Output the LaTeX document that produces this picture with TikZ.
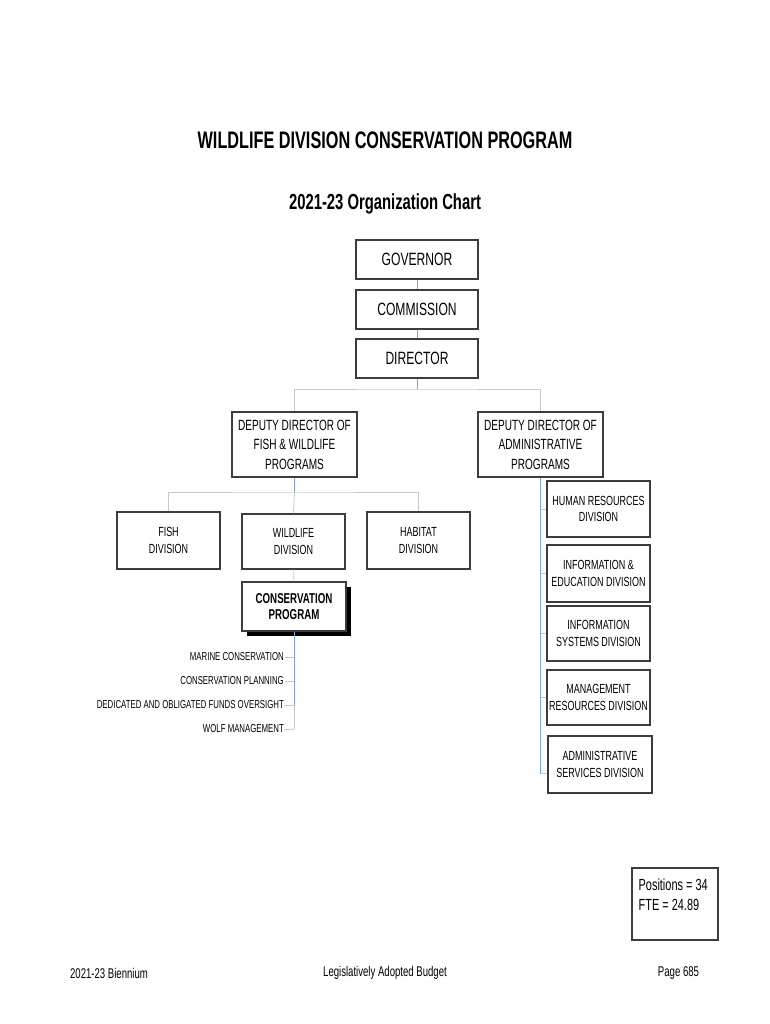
\documentclass[tikz,border=0pt]{standalone}
\usepackage{fontspec}
\setmainfont{Liberation Sans}[FakeStretch=0.68]
\usepackage{tikz}
\usetikzlibrary{positioning, shadows}
\usepackage{xcolor}

\definecolor{linkblue}{RGB}{128,164,222}
\definecolor{linkgray}{RGB}{200,200,200}
\definecolor{boxline}{RGB}{60,60,60}

\begin{document}
\begin{tikzpicture}[
        x=1pt, y=-1pt,
        box/.style={rectangle, draw=boxline, line width=1.1pt, fill=white, align=center, inner sep=0pt,
            drop shadow={shadow xshift=1.2pt, shadow yshift=-1.2pt, fill=gray!60, opacity=1}},
        topbox/.style={box, minimum width=122pt, minimum height=39pt, font=\fontsize{17.8}{20}\selectfont},
        depbox/.style={box, minimum width=125pt, minimum height=65pt, font=\fontsize{14.8}{19.5}\selectfont},
        divbox/.style={box, minimum width=103pt, minimum height=57pt, font=\fontsize{13.2}{16.5}\selectfont},
        progbox/.style={box, minimum width=104pt, minimum height=49pt, font=\bfseries\fontsize{14.3}{16}\selectfont,
            drop shadow={shadow xshift=4.5pt, shadow yshift=-4.5pt, fill=black, opacity=1}},
        item/.style={anchor=east, inner sep=1pt, font=\fontsize{11.5}{13}\selectfont},
        footer/.style={font=\fontsize{14.1}{16}\selectfont},
        bluelink/.style={draw=linkblue, line width=0.8pt},
        graylink/.style={draw=linkgray, line width=0.8pt}
    ]
        \useasboundingbox (0,0) rectangle (770,1024);

        % Titles
        \node[font=\bfseries\fontsize{23.9}{28}\selectfont] (title) at (385,140) {WILDLIFE DIVISION CONSERVATION PROGRAM};
        \node[font=\bfseries\fontsize{21.8}{26}\selectfont] (subtitle) at (385,204) {2021-23 Organization Chart};

        % Top of the chart
        \node[topbox] (gov) at (417,259.5) {GOVERNOR};
        \node[topbox] (com) at (417,309.5) {COMMISSION};
        \node[topbox] (dir) at (417,358.5) {DIRECTOR};

        % Deputy directors
        \node[depbox] (depfw) at (294.5,444.5) {DEPUTY DIRECTOR OF\\FISH \& WILDLIFE\\PROGRAMS};
        \node[depbox] (depadm) at (540.5,444.5) {DEPUTY DIRECTOR OF\\ADMINISTRATIVE\\PROGRAMS};

        % Fish & wildlife divisions
        \node[divbox] (fish) at (168.5,540.5) {FISH\\DIVISION};
        \node[divbox, minimum height=55pt] (wild) at (293.5,541.5) {WILDLIFE\\DIVISION};
        \node[divbox] (hab) at (418.5,540.5) {HABITAT\\DIVISION};
        \node[progbox] (cons) at (294,606.5) {CONSERVATION\\PROGRAM};

        % Program activities
        \node[item] (mc) at (285,657) {MARINE CONSERVATION};
        \node[item] (cp) at (285,681) {CONSERVATION PLANNING};
        \node[item] (dof) at (285,705) {DEDICATED AND OBLIGATED FUNDS OVERSIGHT};
        \node[item] (wm) at (285,729) {WOLF MANAGEMENT};

        % Administrative divisions
        \node[divbox, minimum height=56pt] (hr) at (598.5,509) {HUMAN RESOURCES\\DIVISION};
        \node[divbox] (ied) at (598.5,573.5) {INFORMATION \&\\EDUCATION DIVISION};
        \node[divbox, minimum height=55pt] (isd) at (598.5,633.5) {INFORMATION\\SYSTEMS DIVISION};
        \node[divbox, minimum height=55pt] (mrd) at (598.5,697.5) {MANAGEMENT\\RESOURCES DIVISION};
        \node[divbox, minimum width=104pt] (asd) at (600,764.5) {ADMINISTRATIVE\\SERVICES DIVISION};

        % Positions
        \node[box, minimum width=86pt, minimum height=72pt,
            label={[anchor=north west, align=left, inner sep=0pt, xshift=7pt, yshift=-11pt,
                font=\fontsize{16.1}{20}\selectfont]north west:{Positions = 34\\FTE = 24.89}}]
            (fte) at (675,904) {};

        % Footer
        \node[footer] (bien) at (109,973) {2021-23 Biennium};
        \node[footer] (budget) at (385,973) {Legislatively Adopted Budget};
        \node[footer] (page) at (678.5,973) {Page 685};

        % Connections
        \draw[bluelink] (gov) -- (com);
        \draw[bluelink] (com) -- (dir);
        \coordinate (dirbar) at (417,389);
        \draw[bluelink] (dir) -- (dirbar);
        \draw[graylink] (depfw.north) |- (dirbar) -| (depadm.north);

        \coordinate (fwbar) at (294.5,492);
        \draw[bluelink] (depfw) -- (fwbar);
        \draw[graylink] (fish.north) |- (fwbar) -| (hab.north);
        \draw[graylink] (fwbar) -- (wild.north);
        \draw[graylink] (wild) -- (cons);

        \draw[bluelink] (cons.south) -- (cons.south |- dof.east);
        \draw[graylink] (cons.south |- dof.east) -- (cons.south |- wm.east);
        \foreach \n in {mc, cp, dof, wm}
            \draw[graylink] (\n.east) -- (cons.south |- \n.east);

        \draw[bluelink] (depadm.south) -- ([yshift=-9pt]depadm.south |- asd.west);
        \foreach \n in {hr, ied, isd, mrd}
            \draw[graylink] (depadm.south |- \n.west) -- (\n.west);
        \draw[graylink] ([yshift=-9pt]depadm.south |- asd.west) -- ([yshift=-9pt]asd.west);
    \end{tikzpicture}
\end{document}
